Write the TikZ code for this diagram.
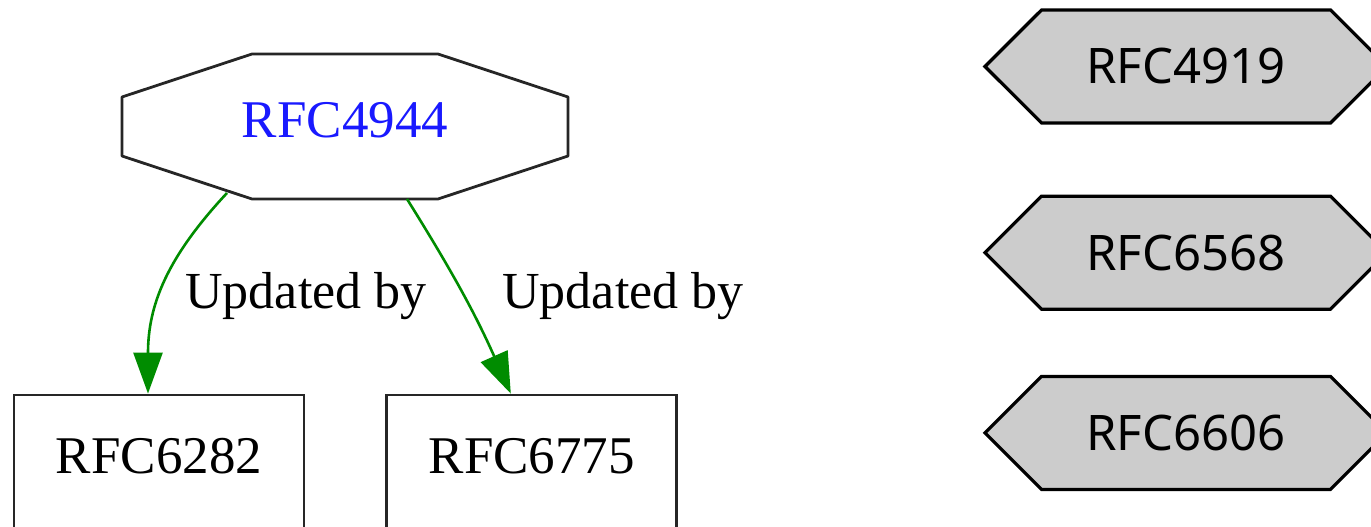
\documentclass[tikz,border=0pt]{standalone}
\usepackage{fontspec}
\setmainfont{Liberation Serif}
\newfontfamily\hexfont{Noto Sans}
\usetikzlibrary{positioning,arrows.meta,shapes.symbols}
\definecolor{rfcblue}{RGB}{25,25,255}
\definecolor{updgreen}{RGB}{0,140,0}
\definecolor{hexgrey}{RGB}{204,204,204}
\tikzset{
  octo/.style  ={minimum width=223pt,minimum height=72.5pt,inner sep=0pt,outer sep=0pt,font=\fontsize{26.5}{30}\selectfont,text=rfcblue,text height=18pt,text depth=6.5pt},
  octoline/.style={draw=black!85,line width=1.4pt,line join=round},
  rfcbox/.style={draw=black!85,line width=1.4pt,minimum width=145pt,minimum height=73pt,inner sep=0pt,font=\fontsize{26.5}{30}\selectfont,text height=18pt,text depth=13pt},
  hexa/.style  ={signal,signal to=west and east,signal pointer angle=90,draw,line width=1.6pt,fill=hexgrey,minimum width=201pt,minimum height=56.5pt,inner sep=0pt,font=\hexfont\fontsize{24.5}{28}\selectfont},
  upd/.style   ={-{Triangle[length=20.5pt,width=14.5pt]},draw=updgreen,line width=1.3pt},
  lbl/.style   ={font=\fontsize{26}{30}\selectfont,inner sep=0pt},
}
\begin{document}
\begin{tikzpicture}[x=0.5pt,y=0.5pt]
\useasboundingbox (0,0) rectangle (1371,526);
\clip (0,0) rectangle (1371,526);
\node[octo] (r4944) at (345,399.5) {RFC4944};
\draw[octoline] ([xshift=65pt]r4944.north west) -- ([xshift=-65pt]r4944.north east)
  -- ([yshift=-21.5pt]r4944.north east) -- ([yshift=21.5pt]r4944.south east)
  -- ([xshift=-65pt]r4944.south east) -- ([xshift=65pt]r4944.south west)
  -- ([yshift=21.5pt]r4944.south west) -- ([yshift=-21.5pt]r4944.north west) -- cycle;
\node[rfcbox] (r6282) at (159,58) {RFC6282};
\node[rfcbox,right=40pt of r6282] (r6775) {RFC6775};
\draw[upd] ([xshift=-59pt,yshift=3pt]r4944.south) to[out=-133,in=90,looseness=1.05] ([xshift=-5.5pt]r6282.north);
\draw[upd] ([xshift=31pt]r4944.south) to[out=-58,in=114] ([xshift=-10.5pt]r6775.north);
\node[lbl,anchor=base west] (u1) at (185,218) {Updated by};
\node[lbl,anchor=base west] (u2) at (502,218) {Updated by};

\node[hexa] (r4919) at (1186,459.5) {RFC4919};
\node[hexa,below=35pt of r4919] (r6568) {RFC6568};
\node[hexa,below=32pt of r6568] (r6606) {RFC6606};
\end{tikzpicture}
\end{document}
